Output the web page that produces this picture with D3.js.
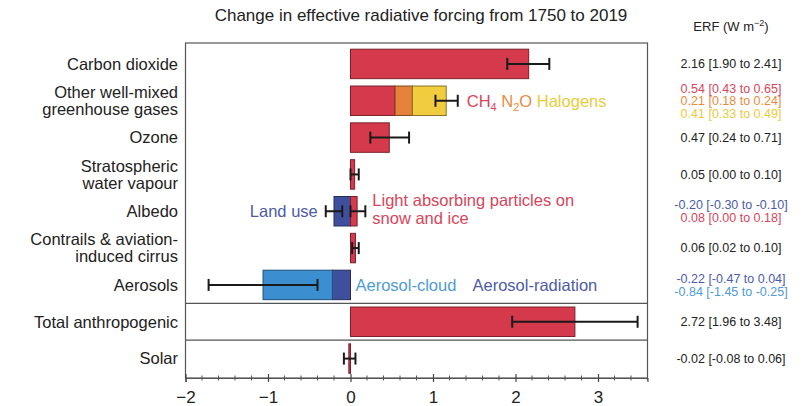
<!doctype html>
<html lang="en">
<head>
<meta charset="utf-8" />
<title>ERF 1750-2019</title>
<script src="https://d3js.org/d3.v7.min.js"></script>
<style>
  body { margin: 0; background: #fff; }
  svg { font-family: "Liberation Sans", Arial, sans-serif; }
</style>
</head>
<body>
<div id="chart"></div>
<script>
// rows of the chart, top to bottom
var categories = ["co2", "wmghg", "ozone", "h2o", "albedo", "contrails", "aerosols", "total", "solar"];
var rowLabels = [
  ["Carbon dioxide"],
  ["Other well-mixed", "greenhouse gases"],
  ["Ozone"],
  ["Stratospheric", "water vapour"],
  ["Albedo"],
  ["Contrails & aviation-", "induced cirrus"],
  ["Aerosols"],
  ["Total anthropogenic"],
  ["Solar"]
];

// stacked components (best estimate and likely range, W m-2)
var compCategory = ["co2", "wmghg", "wmghg", "wmghg", "ozone", "h2o", "albedo", "albedo", "contrails", "aerosols", "aerosols", "total", "solar"];
var compName = ["Carbon dioxide", "CH4", "N2O", "Halogens", "Ozone", "Stratospheric water vapour", "Land use", "Light absorbing particles", "Contrails", "Aerosol-radiation", "Aerosol-cloud", "Total anthropogenic", "Solar"];
var compValue = [2.16, 0.54, 0.21, 0.41, 0.47, 0.05, -0.20, 0.08, 0.06, -0.22, -0.84, 2.72, -0.02];
var compLow   = [1.90, 0.43, 0.18, 0.33, 0.24, 0.00, -0.30, 0.00, 0.02, -0.47, -1.45, 1.96, -0.08];
var compHigh  = [2.41, 0.65, 0.24, 0.49, 0.71, 0.10, -0.10, 0.18, 0.10, 0.04, -0.25, 3.48, 0.06];
var compColor = ["#d43a4b", "#d43a4b", "#e5833a", "#f1cc3f", "#d43a4b", "#d43a4b", "#3e4f9e", "#d43a4b", "#d43a4b", "#3e4f9e", "#3b8ed0", "#d43a4b", "#d43a4b"];
var compTextColor = ["#222", "#d8455a", "#e98b3f", "#e9cb3c", "#222", "#222", "#4d5ba6", "#d8455a", "#222", "#4d5ba6", "#4f9bd6", "#222", "#222"];

// error bars drawn on the plot
var errCategory = ["co2", "wmghg", "ozone", "h2o", "albedo", "albedo", "contrails", "aerosols", "total", "solar"];
var errCentre = [2.16, 1.16, 0.47, 0.05, -0.20, 0.08, 0.06, -1.06, 2.72, -0.02];
var errLow    = [1.90, 1.03, 0.24, 0.00, -0.30, 0.00, 0.02, -1.72, 1.96, -0.08];
var errHigh   = [2.41, 1.30, 0.71, 0.10, -0.10, 0.18, 0.10, -0.40, 3.48, 0.06];

var xTicks = [-2, -1, 0, 1, 2, 3];

var width = 812, height = 406;
var svg = d3.select("#chart").append("svg")
  .attr("width", width)
  .attr("height", height);

var x = d3.scaleLinear().domain([-2, 3.6]).range([185.5, 647.5]);
var y = d3.scaleBand().domain(categories).range([45.5, 377]).paddingInner(0.2).paddingOuter(0.1);

var fmt = d3.formatLocale({decimal: ".", thousands: ",", grouping: [3], currency: ["", ""], minus: "-"}).format(".2f");

// title
svg.append("text")
  .attr("x", 421).attr("y", 21)
  .attr("text-anchor", "middle")
  .attr("font-size", "17px")
  .attr("fill", "#222")
  .text("Change in effective radiative forcing from 1750 to 2019");

// right column header
var hdr = svg.append("text")
  .attr("x", 731).attr("y", 31)
  .attr("text-anchor", "middle")
  .attr("font-size", "13px")
  .attr("fill", "#222");
hdr.append("tspan").text("ERF (W m");
hdr.append("tspan").attr("dy", -5).attr("font-size", "9px").text("\u22122");
hdr.append("tspan").attr("dy", 5).text(")");

// frame
svg.append("rect")
  .attr("x", x(-2)).attr("y", 43)
  .attr("width", x(3.6) - x(-2)).attr("height", 378 - 43)
  .attr("fill", "none")
  .attr("stroke", "#555").attr("stroke-width", 1.2);

// separators above total and solar panels
var step = y.step();
["total", "solar"].forEach(function(c) {
  var yy = y(c) - step * y.paddingInner() / 2;
  svg.append("line")
    .attr("x1", x(-2)).attr("x2", x(3.6))
    .attr("y1", yy).attr("y2", yy)
    .attr("stroke", "#555").attr("stroke-width", 1.2);
});

// stack the components (positive to the right, negative to the left)
var posSum = {}, negSum = {};
var segs = compValue.map(function(v, i) {
  var c = compCategory[i], start;
  if (v >= 0) { start = posSum[c] || 0; posSum[c] = start + v; }
  else { start = negSum[c] || 0; negSum[c] = start + v; }
  return {cat: c, x0: Math.min(start, start + v), x1: Math.max(start, start + v), color: compColor[i]};
});

svg.append("g").selectAll("rect")
  .data(segs)
  .join("rect")
    .attr("x", function(d) { return x(d.x0); })
    .attr("y", function(d) { return y(d.cat); })
    .attr("width", function(d) { return x(d.x1) - x(d.x0); })
    .attr("height", y.bandwidth())
    .attr("fill", function(d) { return d.color; })
    .attr("stroke", function(d) { return d3.color(d.color).darker(1.6); })
    .attr("stroke-width", 1);

// error bars
var cap = 6;
var eb = svg.append("g").attr("stroke", "#1a1a1a").attr("stroke-width", 2);
errCategory.forEach(function(c, i) {
  var yc = y(c) + y.bandwidth() / 2;
  eb.append("line").attr("x1", x(errLow[i])).attr("x2", x(errHigh[i])).attr("y1", yc).attr("y2", yc);
  eb.append("line").attr("x1", x(errLow[i])).attr("x2", x(errLow[i])).attr("y1", yc - cap).attr("y2", yc + cap);
  eb.append("line").attr("x1", x(errHigh[i])).attr("x2", x(errHigh[i])).attr("y1", yc - cap).attr("y2", yc + cap);
});

// axis
var axis = d3.axisBottom(x).tickValues(xTicks).tickSize(4).tickPadding(9).tickFormat(d3.format("d"));
var gx = svg.append("g")
  .attr("transform", "translate(0,378)")
  .call(axis);
gx.select(".domain").attr("stroke", "#555").attr("stroke-width", 1.2);
gx.selectAll(".tick line").attr("stroke", "#444").attr("y1", -4).attr("stroke-width", 1.2);
gx.selectAll("text").attr("font-size", "17px").attr("fill", "#222")
  .attr("font-family", "Liberation Sans, Arial, sans-serif");
// minor ticks every 0.2
var minor = d3.range(-2, 3.61, 0.2).filter(function(v) { return Math.abs(v - Math.round(v)) > 0.01; });
gx.selectAll(".minor")
  .data(minor)
  .join("line")
    .attr("class", "minor")
    .attr("x1", function(d) { return x(d); }).attr("x2", function(d) { return x(d); })
    .attr("y1", -2.5).attr("y2", 2.5)
    .attr("stroke", "#555").attr("stroke-width", 1);

// row labels
var lineH = 17;
var lab = svg.append("g").attr("font-size", "16.5px").attr("fill", "#222").attr("text-anchor", "end");
categories.forEach(function(c, i) {
  var lines = rowLabels[i];
  var yc = y(c) + y.bandwidth() / 2;
  lines.forEach(function(t, k) {
    lab.append("text")
      .attr("x", 178)
      .attr("y", yc + (k - (lines.length - 1) / 2) * lineH)
      .attr("dy", "0.35em")
      .text(t);
  });
});

// right column ERF values
var valG = svg.append("g").attr("font-size", "12.5px").attr("text-anchor", "middle");
var valH = 12.5;
categories.forEach(function(c) {
  var idx = d3.range(compCategory.length).filter(function(i) { return compCategory[i] === c; });
  var yc = y(c) + y.bandwidth() / 2;
  idx.forEach(function(i, k) {
    valG.append("text")
      .attr("x", 731)
      .attr("y", yc + (k - (idx.length - 1) / 2) * valH)
      .attr("dy", "0.35em")
      .attr("fill", compTextColor[i])
      .attr("textLength", null)
      .text(fmt(compValue[i]) + " [" + fmt(compLow[i]) + " to " + fmt(compHigh[i]) + "]");
  });
});

// in-plot annotations
var ann = svg.append("g").attr("font-size", "16.5px");
var yw = y("wmghg") + y.bandwidth() / 2;
var t1 = ann.append("text").attr("x", x(1.30) + 9).attr("y", yw).attr("dy", "0.35em");
t1.append("tspan").attr("fill", compTextColor[1]).text("CH");
t1.append("tspan").attr("fill", compTextColor[1]).attr("font-size", "11px").attr("dy", 4).text("4");
t1.append("tspan").attr("fill", compTextColor[2]).attr("dy", -4).text(" N");
t1.append("tspan").attr("fill", compTextColor[2]).attr("font-size", "11px").attr("dy", 4).text("2");
t1.append("tspan").attr("fill", compTextColor[2]).attr("dy", -4).text("O");
t1.append("tspan").attr("fill", compTextColor[3]).text(" Halogens");

var ya = y("albedo") + y.bandwidth() / 2;
ann.append("text").attr("x", x(-0.30) - 8).attr("y", ya).attr("dy", "0.35em")
  .attr("text-anchor", "end").attr("fill", compTextColor[6]).text("Land use");
ann.append("text").attr("x", x(0.18) + 7).attr("y", ya - 11).attr("dy", "0.35em")
  .attr("fill", compTextColor[7]).text("Light absorbing particles on");
ann.append("text").attr("x", x(0.18) + 7).attr("y", ya + 7).attr("dy", "0.35em")
  .attr("fill", compTextColor[7]).text("snow and ice");

var yr = y("aerosols") + y.bandwidth() / 2;
ann.append("text").attr("x", x(0) + 5).attr("y", yr).attr("dy", "0.35em")
  .attr("fill", compTextColor[10]).text("Aerosol-cloud");
ann.append("text").attr("x", x(0) + 122).attr("y", yr).attr("dy", "0.35em")
  .attr("fill", compTextColor[9]).text("Aerosol-radiation");
</script>
</body>
</html>
